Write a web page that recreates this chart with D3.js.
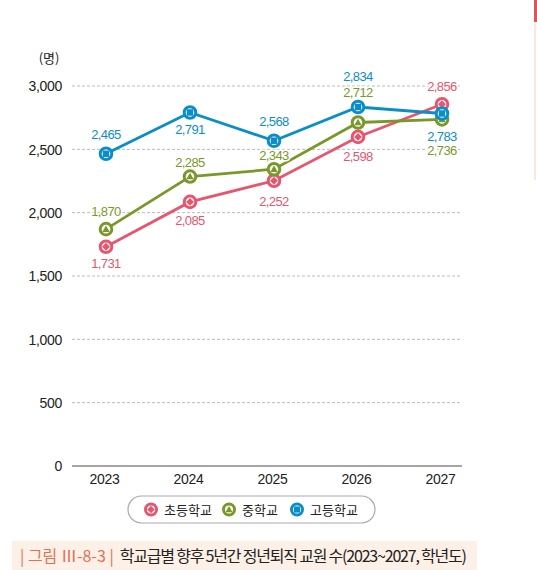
<!DOCTYPE html>
<html><head><meta charset="utf-8">
<script src="https://cdn.jsdelivr.net/npm/d3@7"></script>
<style>
body{margin:0;background:#fff;}
svg{display:block;font-family:"Noto Sans CJK KR","Noto Sans",sans-serif;}
</style></head>
<body>
<svg id="c" width="537" height="570"></svg>
<script>
const years = ["2023","2024","2025","2026","2027"];
const elementary = [1731, 2085, 2252, 2598, 2856];
const middle = [1870, 2285, 2343, 2712, 2736];
const high = [2465, 2791, 2568, 2834, 2783];
const yTicks = [0, 500, 1000, 1500, 2000, 2500, 3000];
const seriesNames = ["초등학교", "중학교", "고등학교"];
const unitLabel = "(명)";
const captionTag = "| 그림 Ⅲ-8-3 |";
const captionText = "학교급별 향후 5년간 정년퇴직 교원 수(2023~2027, 학년도)";

const colors = ["#e5566f", "#7a982a", "#0b8ec6"];
const shapes = ["diamond", "triangle", "square"];
// label offset (px from marker to baseline) per point
const labelOffset = [
  [21, 23.5, 25.5, 24, -13],
  [-13.5, -9.5, -9, -25.5, 36],
  [-15, 21.5, -15, -26, 28]
];
const series = [elementary, middle, high];

const svg = d3.select("#c");
const x = d3.scalePoint().domain(years).range([106, 442]);
const y = d3.scaleLinear().domain([0, 3000]).range([466, 86]);
const gridX0 = 72, gridX1 = 462;
const numFont = "Liberation Sans, Arial, sans-serif";

// right decoration
svg.append("rect").attr("x", 534).attr("y", 0).attr("width", 3).attr("height", 22).attr("fill", "#d05b5b");
svg.append("rect").attr("x", 534).attr("y", 22).attr("width", 2).attr("height", 158).attr("fill", "#fbe8d8");

// y axis
const yAxis = d3.axisLeft(y).tickValues(yTicks).tickFormat(d3.format(",")).tickSize(0).tickPadding(0);
const gy = svg.append("g").attr("transform", `translate(62,0)`).call(yAxis);
gy.select(".domain").remove();
gy.selectAll("text").attr("font-size", 14).attr("fill", "#222").attr("dy", "0.35em").attr("font-family", numFont).attr("letter-spacing", -0.3);

svg.append("g").selectAll("line").data(yTicks.filter(d => d > 0)).join("line")
  .attr("x1", gridX0).attr("x2", gridX1).attr("y1", d => y(d)).attr("y2", d => y(d))
  .attr("stroke", "#bbb").attr("stroke-width", 1).attr("stroke-dasharray", "3,2");
svg.append("line").attr("x1", gridX0).attr("x2", gridX1).attr("y1", y(0)).attr("y2", y(0))
  .attr("stroke", "#888").attr("stroke-width", 1.5);

svg.append("text").attr("x", 49).attr("y", 63).attr("text-anchor", "middle").attr("font-size", 13).attr("fill", "#222").text(unitLabel);

// x axis
const xAxis = d3.axisBottom(x).tickSize(0).tickPadding(0);
const gx = svg.append("g").attr("transform", `translate(-2,${y(0)})`).call(xAxis);
gx.select(".domain").remove();
gx.selectAll("text").attr("font-size", 14).attr("fill", "#222").attr("dy", "1.3em").attr("font-family", numFont).attr("letter-spacing", -0.3);

// lines
const line = d3.line().x((d, i) => x(years[i])).y(d => y(d));
series.forEach((s, k) => {
  svg.append("path").datum(s).attr("d", line).attr("fill", "none").attr("stroke", colors[k]).attr("stroke-width", 2.8);
});

function drawMarker(g, cx, cy, k, r) {
  g.append("circle").attr("cx", cx).attr("cy", cy).attr("r", r).attr("fill", "#fff").attr("stroke", colors[k]).attr("stroke-width", 3);
  const s = shapes[k];
  if (s === "diamond") {
    const a = r * 0.68;
    g.append("path").attr("d", `M${cx},${cy - a}L${cx + a},${cy}L${cx},${cy + a}L${cx - a},${cy}Z`).attr("fill", colors[k]);
  } else if (s === "triangle") {
    const a = r * 0.64;
    g.append("path").attr("d", `M${cx},${cy - a}L${cx + a},${cy + a * 0.75}L${cx - a},${cy + a * 0.75}Z`).attr("fill", colors[k]);
  } else {
    const a = r * 0.56;
    g.append("rect").attr("x", cx - a).attr("y", cy - a).attr("width", 2 * a).attr("height", 2 * a).attr("fill", colors[k]);
  }
}

const mk = svg.append("g");
series.forEach((s, k) => {
  s.forEach((v, i) => drawMarker(mk, x(years[i]), y(v), k, 5.8));
});

// labels
const fmt = d3.format(",");
const lbl = svg.append("g").attr("font-size", 13).attr("text-anchor", "middle").attr("font-family", numFont);
series.forEach((s, k) => {
  s.forEach((v, i) => {
    lbl.append("text").attr("x", x(years[i])).attr("y", y(v) + labelOffset[k][i])
      .attr("fill", colors[k]).attr("letter-spacing", -0.6)
      .attr("stroke", "#fff").attr("stroke-width", 3).attr("paint-order", "stroke")
      .text(fmt(v));
  });
});

// legend
const lg = svg.append("g");
lg.append("rect").attr("x", 128).attr("y", 496).attr("width", 247).attr("height", 27).attr("rx", 13.5)
  .attr("fill", "#fff").attr("stroke", "#aaa").attr("stroke-width", 1.2);
const lx = [151, 229, 297];
seriesNames.forEach((n, k) => {
  drawMarker(lg, lx[k], 509.5, k, 5.5);
  lg.append("text").attr("x", lx[k] + 13).attr("y", 514.5).attr("font-size", 13).attr("fill", "#222").text(n);
});

// caption
svg.append("rect").attr("x", 12).attr("y", 541).attr("width", 465).attr("height", 29).attr("fill", "#fdf0e6");
const cap = svg.append("text").attr("x", 20).attr("y", 562).attr("font-size", 16);
cap.append("tspan").attr("fill", "#e0705a").attr("letter-spacing", 0).text(captionTag);
cap.append("tspan").attr("fill", "#222").attr("dx", 6).attr("letter-spacing", -1.2).text(captionText);
</script>
</body></html>
